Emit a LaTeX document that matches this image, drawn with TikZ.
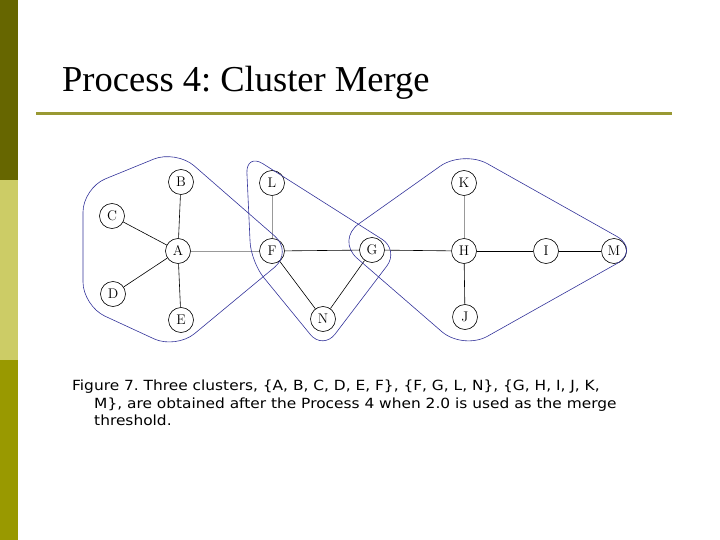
\documentclass[tikz,border=0pt]{standalone}
\usepackage{fontspec}
\usepackage{xcolor}
\usepackage{tikz}
\usetikzlibrary{positioning,calc}
\newfontfamily\titlefont{Liberation Serif}
\newfontfamily\capfont{DejaVu Sans}
\definecolor{barDark}{HTML}{666600}
\definecolor{barLight}{HTML}{CCCC66}
\definecolor{barMid}{HTML}{999900}
\definecolor{ruleOlive}{HTML}{999933}
\definecolor{hullBlue}{HTML}{33339A}
\frenchspacing

\begin{document}
\begin{tikzpicture}[x=1pt,y=-1pt,
    vertex/.style={circle,draw,line width=0.6pt,minimum size=25pt,inner sep=0pt,
        font=\fontsize{14}{14}\selectfont},
    edge/.style={line width=0.6pt},
    faint/.style={line width=0.6pt,black!40},
    hull/.style={hullBlue,line width=0.6pt,rounded corners=20pt},
    caption/.style={anchor=base west,inner sep=0pt,xscale=1.1,
        font=\capfont\fontsize{14}{16}\selectfont}]
    \useasboundingbox (0,0) rectangle (720,540);

    % Side bar
    \fill[barDark] (0,0) rectangle (18,180);
    \fill[barLight] (0,180) rectangle (18,360);
    \fill[barMid] (0,360) rectangle (18,540);

    % Title
    \node[anchor=base west,inner sep=0pt,font=\titlefont\fontsize{36.5}{37}\selectfont] (title) at (62,92) {Process 4: Cluster Merge};
    \draw[ruleOlive,line width=3pt] (36,114) -- (672,114);

    % Vertices
    \node[vertex] (B) at (181,182) {B};
    \node[vertex] (C) at (112,216) {C};
    \node[vertex] (A) at (178,251) {A};
    \node[vertex] (D) at (113,294) {D};
    \node[vertex] (E) at (181,320) {E};
    \node[vertex] (L) at (272,183) {L};
    \node[vertex] (F) at (272,251) {F};
    \node[vertex] (G) at (372,250) {G};
    \node[vertex] (N) at (323,319) {N};
    \node[vertex] (K) at (464,183) {K};
    \node[vertex] (H) at (464,251) {H};
    \node[vertex] (I) at (546,251) {I};
    \node[vertex] (J) at (465,317) {J};
    \node[vertex] (M) at (614,251) {M};

    % Edges
    \draw[edge] (A) -- (B);
    \draw[edge] (A) -- (C);
    \draw[edge] (A) -- (D);
    \draw[edge] (A) -- (E);
    \draw[faint] (A) -- (F);
    \draw[faint] (L) -- (F);
    \draw[edge] (F) -- (G);
    \draw[edge] (F) -- (N);
    \draw[edge] (G) -- (N);
    \draw[edge] (G) -- (H);
    \draw[faint] (H) -- (K);
    \draw[edge] (H) -- (J);
    \draw[edge] (H) -- (I);
    \draw[edge] (I) -- (M);

    % Clusters
    \draw[hull,rounded corners=24pt] (83,188) -- (176,150) -- (293,252) -- (176,349) -- (83,306) -- cycle;
    \draw[hull] (246,153) -- (399,250) -- (323,350) -- (251,262) -- cycle;
    \draw[hull,rounded corners=28pt] (336,240) -- (463,150) -- (641,250) -- (463,350) -- cycle;

    % Caption
    \node[caption] (cap1) at (72,390) {Figure 7. Three clusters, \{A, B, C, D, E, F\}, \{F, G, L, N\}, \{G, H, I, J, K,};
    \node[caption] (cap2) at (94,408) {M\}, are obtained after the Process 4 when 2.0 is used as the merge};
    \node[caption] (cap3) at (94,425) {threshold.};
\end{tikzpicture}
\end{document}
